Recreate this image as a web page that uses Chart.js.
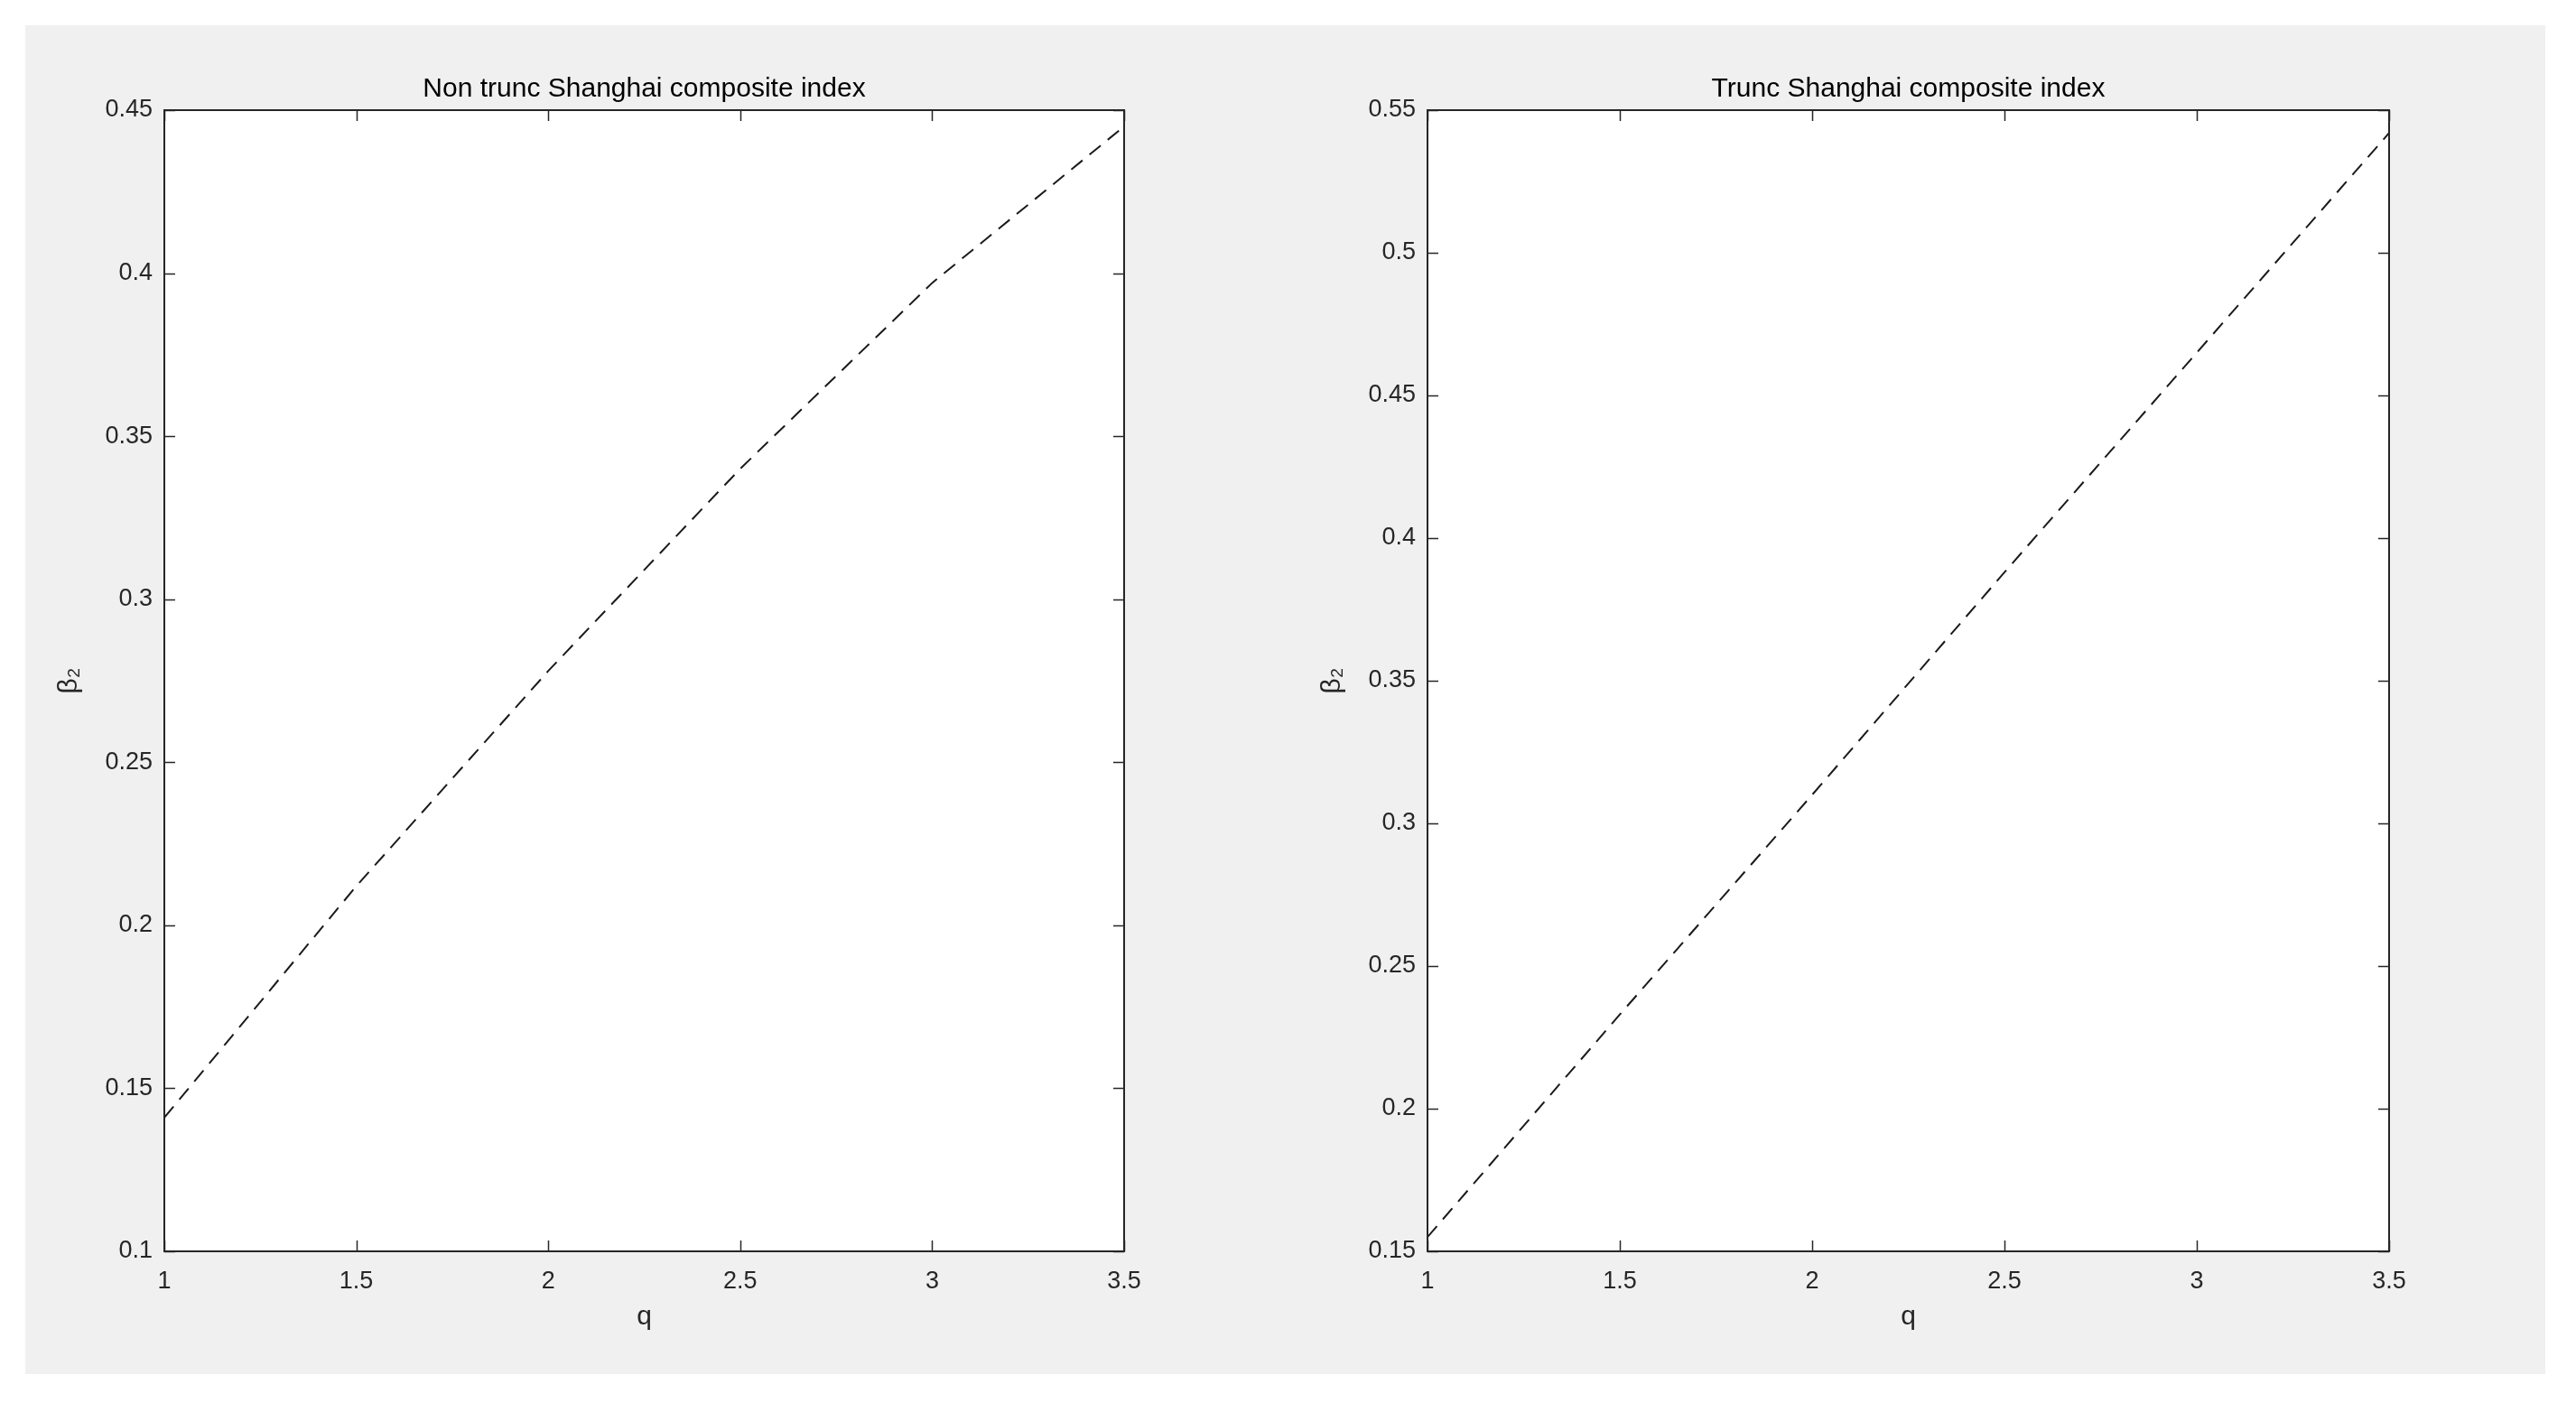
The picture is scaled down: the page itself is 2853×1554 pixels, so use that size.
<!DOCTYPE html>
<html>
<head>
<meta charset="utf-8">
<script src="https://cdn.jsdelivr.net/npm/chart.js@4.4.0/dist/chart.umd.min.js"></script>
<style>
  html, body { margin: 0; padding: 0; background: #fff; }
  body { width: 2853px; height: 1554px; position: relative; overflow: hidden; }
  #fig { position: absolute; left: 28px; top: 28px; width: 2791px; height: 1494px; background: #f0f0f0; }
  canvas { position: absolute; top: 0; }
  #canvas1 { left: 0; }
  #canvas2 { left: 1399px; }
</style>
</head>
<body>
<div id="fig">
  <canvas id="canvas1" width="1372" height="1494"></canvas>
  <canvas id="canvas2" width="1374" height="1494"></canvas>
</div>
<script>
// q on the x axis, beta_2 on the y axis
const qValues = [1, 1.5, 2, 2.5, 3, 3.5];
const nonTruncBeta = [0.141, 0.212, 0.278, 0.340, 0.397, 0.445];
const truncBeta = [0.155, 0.233, 0.310, 0.388, 0.465, 0.542];

const xTicks = [1, 1.5, 2, 2.5, 3, 3.5];
const nonTruncYTicks = [0.1, 0.15, 0.2, 0.25, 0.3, 0.35, 0.4, 0.45];
const truncYTicks = [0.15, 0.2, 0.25, 0.3, 0.35, 0.4, 0.45, 0.5, 0.55];

const FONT = "'Liberation Sans', Arial, Helvetica, sans-serif";
const AXIS_COLOR = "#262626";

// white axes box, inward ticks on all four sides (matlab style)
const matlabAxes = {
  id: "matlabAxes",
  beforeDraw(chart) {
    const { ctx, chartArea: a } = chart;
    ctx.save();
    ctx.fillStyle = "#fff";
    ctx.fillRect(a.left, a.top, a.right - a.left, a.bottom - a.top);
    ctx.restore();
  },
  afterDraw(chart) {
    const { ctx, chartArea: a, scales } = chart;
    const len = 12;
    ctx.save();
    ctx.strokeStyle = AXIS_COLOR;
    ctx.lineWidth = 1.5;
    ctx.beginPath();
    scales.x.ticks.forEach(t => {
      const px = Math.round(scales.x.getPixelForValue(t.value)) + 0.5;
      ctx.moveTo(px, a.bottom); ctx.lineTo(px, a.bottom - len);
      ctx.moveTo(px, a.top); ctx.lineTo(px, a.top + len);
    });
    scales.y.ticks.forEach(t => {
      const py = Math.round(scales.y.getPixelForValue(t.value)) + 0.5;
      ctx.moveTo(a.left, py); ctx.lineTo(a.left + len, py);
      ctx.moveTo(a.right, py); ctx.lineTo(a.right - len, py);
    });
    ctx.stroke();
    ctx.lineWidth = 2;
    ctx.strokeRect(a.left, a.top, a.right - a.left, a.bottom - a.top);
    ctx.restore();
  }
};

function makeChart(canvasId, titleText, yTicks, values) {
  const ctx = document.getElementById(canvasId).getContext("2d");
  return new Chart(ctx, {
    type: "line",
    data: {
      datasets: [
        {
          data: qValues.map((q, i) => ({ x: q, y: values[i] })),
          borderColor: "#1a1a1a",
          borderWidth: 2,
          borderDash: [16, 10],
          pointRadius: 0,
          tension: 0,
          fill: false,
        },
      ],
    },
    options: {
      responsive: false,
      animation: false,
      layout: { padding: { left: 0, right: 155, top: 0, bottom: 0 } },
      plugins: {
        legend: { display: false },
        tooltip: { enabled: false },
        title: {
          display: true,
          fullSize: false,
          text: titleText,
          color: "#000",
          font: { size: 30, family: FONT, weight: "normal" },
          padding: { top: 53, bottom: 5 },
        },
      },
      scales: {
        x: {
          type: "linear",
          min: xTicks[0],
          max: xTicks[xTicks.length - 1],
          grid: { display: false, drawTicks: false },
          border: { display: false },
          afterBuildTicks: s => { s.ticks = xTicks.map(v => ({ value: v })); },
          afterFit: s => { s.height = 136; },
          ticks: {
            color: AXIS_COLOR,
            font: { size: 27, family: FONT },
            padding: 17,
            maxRotation: 0,
            autoSkip: false,
            callback: v => String(v),
          },
          title: {
            display: true,
            text: "q",
            color: AXIS_COLOR,
            font: { size: 30, family: FONT },
            padding: { top: 0, bottom: 45 },
          },
        },
        y: {
          type: "linear",
          min: yTicks[0],
          max: yTicks[yTicks.length - 1],
          grid: { display: false, drawTicks: false },
          border: { display: false },
          afterBuildTicks: s => { s.ticks = yTicks.map(v => ({ value: v })); },
          afterFit: s => { s.width = 154; },
          ticks: {
            color: AXIS_COLOR,
            font: { size: 27, family: FONT },
            padding: 13,
            autoSkip: false,
            callback: v => String(v),
          },
          title: {
            display: true,
            text: "β₂",
            color: AXIS_COLOR,
            font: { size: 30, family: FONT },
            padding: { top: 31, bottom: 0 },
          },
        },
      },
    },
    plugins: [matlabAxes],
  });
}

window.onload = function () {
  makeChart("canvas1", "Non trunc Shanghai composite index", nonTruncYTicks, nonTruncBeta);
  makeChart("canvas2", "Trunc Shanghai composite index", truncYTicks, truncBeta);
};
</script>
</body>
</html>
